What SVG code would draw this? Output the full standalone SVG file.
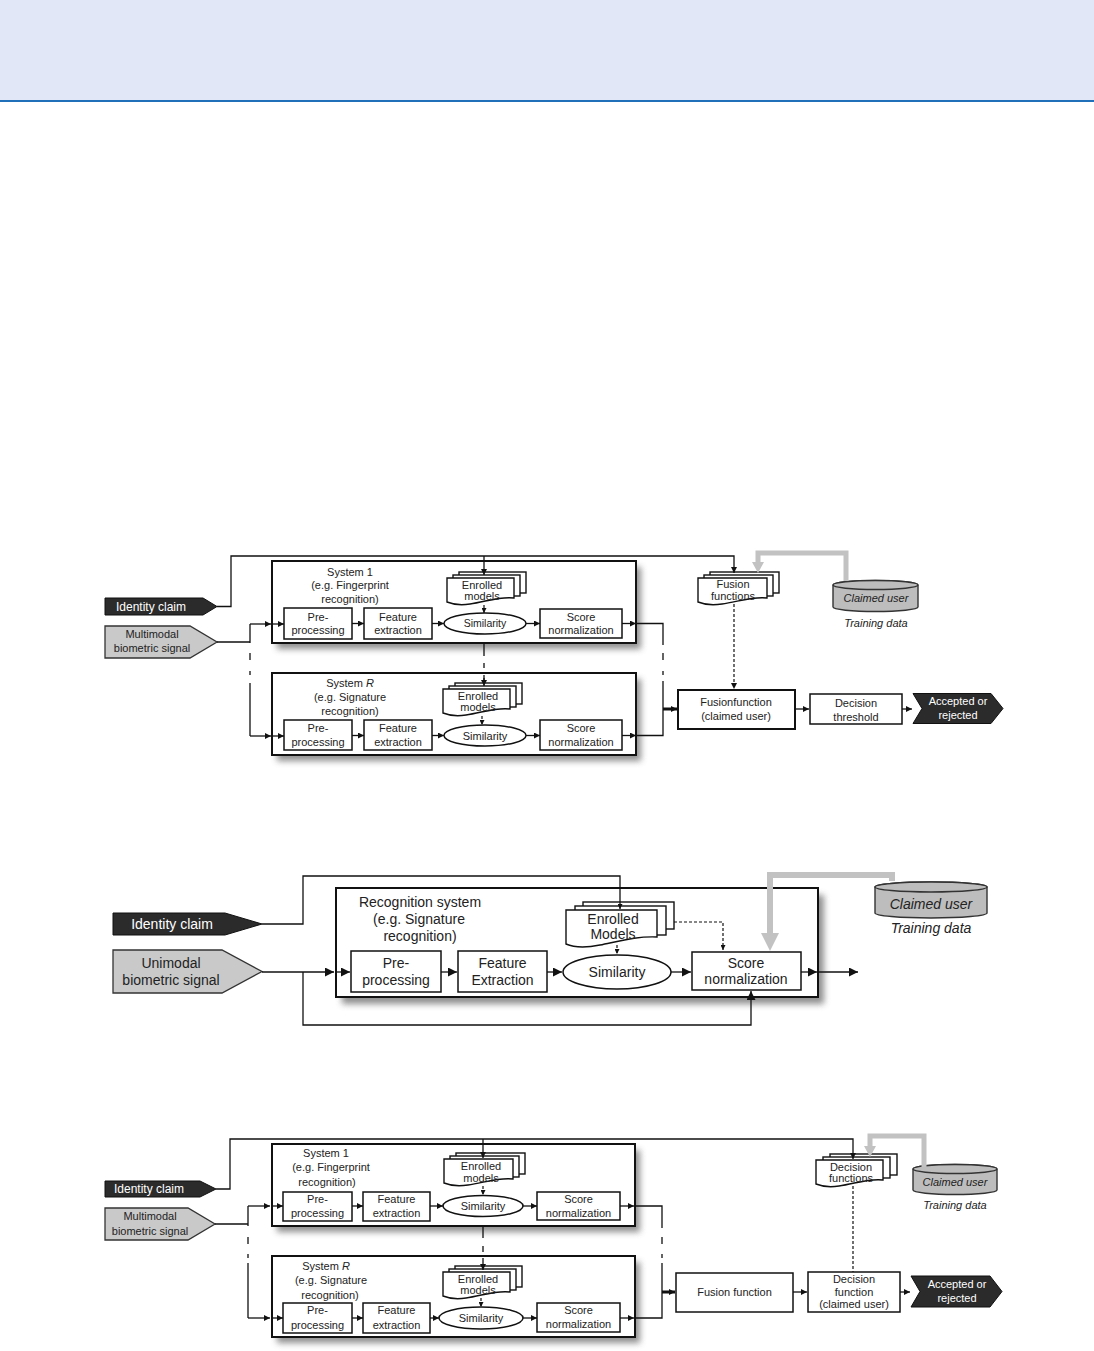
<svg xmlns="http://www.w3.org/2000/svg" width="1094" height="1351" viewBox="0 0 1094 1351">
<style>
.bg{fill:#fff}
.box{fill:#fff;stroke:#111;stroke-width:1.5}
.sys{fill:#fff;stroke:#111;stroke-width:2}
.shd{fill:#6a6a6a;opacity:.75}
.doc{fill:#fff;stroke:#111;stroke-width:1.4}
.cyl{fill:#bdbdbd;stroke:#333;stroke-width:1.4}
.dark{fill:#2b2b2b;stroke:#111;stroke-width:1}
.lite{fill:#c9c9c9;stroke:#333;stroke-width:1.3}
.t{font-family:"Liberation Sans",Arial,Helvetica,sans-serif;fill:#222;text-anchor:middle}
.w{fill:#fff}
.i{font-style:italic}
.s1{font-size:11px}
.s2{font-size:14px}
.ln{fill:none;stroke:#111;stroke-width:1.3}
.ds{fill:none;stroke:#111;stroke-width:1.2;stroke-dasharray:3 2}
.th{fill:none;stroke:#111;stroke-width:3}
.gr{fill:none;stroke:#c2c2c2;stroke-width:5}
.gr2{fill:none;stroke:#c2c2c2;stroke-width:6}
.ga{fill:#c2c2c2}
</style>
<defs>
<marker id="a" viewBox="0 0 10 10" refX="10" refY="5" markerWidth="8" markerHeight="6" markerUnits="userSpaceOnUse" orient="auto"><path d="M0,0 L10,5 L0,10 z" fill="#111"/></marker>
<marker id="as" viewBox="0 0 10 10" refX="10" refY="5" markerWidth="5" markerHeight="5" markerUnits="userSpaceOnUse" orient="auto"><path d="M0,0 L10,5 L0,10 z" fill="#111"/></marker>
<marker id="b" viewBox="0 0 10 10" refX="10" refY="5" markerWidth="12" markerHeight="9" markerUnits="userSpaceOnUse" orient="auto"><path d="M0,0 L10,5 L0,10 z" fill="#111"/></marker>
<filter id="blur" x="-10%" y="-20%" width="130%" height="150%"><feGaussianBlur stdDeviation="3"/></filter>
</defs>
<rect class="bg" x="0" y="0" width="1094" height="1351"/>
<rect x="0" y="0" width="1094" height="100" fill="#E1E7F7"/>
<line x1="0" y1="101" x2="1094" y2="101" stroke="#1F70B8" stroke-width="2"/>

<!-- ================= DIAGRAM 1 ================= -->
<g id="d1-identity">
<polygon class="dark" points="105,598 203,598 217,606.5 203,615 105,615"/>
<text class="t w" x="151" y="610.5" font-size="12">Identity claim</text>
</g>
<g id="d1-signal">
<polygon class="lite" points="105,626 190,626 217,642 190,658 105,658"/>
<text class="t s1" x="152" y="638">Multimodal</text>
<text class="t s1" x="152" y="652">biometric signal</text>
</g>
<g id="d1-sys1">
<rect class="shd" x="277" y="567" width="364" height="82" filter="url(#blur)"/>
<rect class="sys" x="272" y="561" width="364" height="82"/>
<text class="t s1" x="350" y="576">System 1</text>
<text class="t s1" x="350" y="589">(e.g. Fingerprint</text>
<text class="t s1" x="350" y="603">recognition)</text>
</g>
<g id="d1-pre1"><rect class="box" x="284" y="608" width="68" height="31"/><text class="t s1" x="318" y="621">Pre-</text><text class="t s1" x="318" y="634">processing</text></g>
<g id="d1-feat1"><rect class="box" x="364" y="608" width="68" height="31"/><text class="t s1" x="398" y="621">Feature</text><text class="t s1" x="398" y="634">extraction</text></g>
<g id="d1-enr1">
<rect class="doc" x="459" y="572" width="67" height="21"/>
<rect class="doc" x="453" y="575" width="67" height="21"/>
<path class="doc" d="M447,578 H514 V598 C500,596 485,602 470,604 C458,606 452,604 447,602 Z"/>
<text class="t s1" x="482" y="589">Enrolled</text><text class="t s1" x="482" y="600">models</text>
</g>
<g id="d1-sim1"><ellipse class="box" cx="485" cy="623.5" rx="41" ry="10.5"/><text class="t" x="485" y="627" font-size="10.5">Similarity</text></g>
<g id="d1-sn1"><rect class="box" x="540" y="609" width="82" height="29"/><text class="t s1" x="581" y="621">Score</text><text class="t s1" x="581" y="634">normalization</text></g>

<g id="d1-sysR">
<rect class="shd" x="277" y="679" width="364" height="82" filter="url(#blur)"/>
<rect class="sys" x="272" y="673" width="364" height="82"/>
<text class="t s1" x="350" y="687">System <tspan class="i">R</tspan></text>
<text class="t s1" x="350" y="701">(e.g. Signature</text>
<text class="t s1" x="350" y="715">recognition)</text>
</g>
<g id="d1-preR"><rect class="box" x="284" y="720" width="68" height="30"/><text class="t s1" x="318" y="732">Pre-</text><text class="t s1" x="318" y="746">processing</text></g>
<g id="d1-featR"><rect class="box" x="364" y="720" width="68" height="30"/><text class="t s1" x="398" y="732">Feature</text><text class="t s1" x="398" y="746">extraction</text></g>
<g id="d1-enrR">
<rect class="doc" x="455" y="683" width="67" height="21"/>
<rect class="doc" x="449" y="686" width="67" height="21"/>
<path class="doc" d="M443,689 H510 V709 C496,707 481,713 466,715 C454,717 448,715 443,713 Z"/>
<text class="t s1" x="478" y="700">Enrolled</text><text class="t s1" x="478" y="711">models</text>
</g>
<g id="d1-simR"><ellipse class="box" cx="485" cy="735.5" rx="41" ry="10.5"/><text class="t" x="485" y="740" font-size="11">Similarity</text></g>
<g id="d1-snR"><rect class="box" x="540" y="720" width="82" height="30"/><text class="t s1" x="581" y="732">Score</text><text class="t s1" x="581" y="746">normalization</text></g>

<g id="d1-fusfn">
<rect class="doc" x="710" y="572" width="69" height="21"/>
<rect class="doc" x="704" y="575" width="69" height="21"/>
<path class="doc" d="M698,578 H767 V598 C753,596 737,602 722,604 C710,606 703,604 698,602 Z"/>
<text class="t s1" x="733" y="588">Fusion</text><text class="t s1" x="733" y="600">functions</text>
</g>
<g id="d1-claimed">
<path class="cyl" d="M833,585 A42.5,4.5 0 0 1 918,585 V607 A42.5,4.5 0 0 1 833,607 Z"/>
<ellipse class="cyl" cx="875.5" cy="585" rx="42.5" ry="4.5"/>
<text class="t s1 i" x="876" y="602">Claimed user</text>
<text class="t s1 i" x="876" y="627">Training data</text>
</g>
<g id="d1-fusion"><rect class="sys" x="678" y="690" width="117" height="39"/><text class="t s1" x="736" y="706">Fusionfunction</text><text class="t s1" x="736" y="720">(claimed user)</text></g>
<g id="d1-thresh"><rect class="box" x="810" y="694" width="92" height="30"/><text class="t s1" x="856" y="707">Decision</text><text class="t s1" x="856" y="721">threshold</text></g>
<g id="d1-accept"><polygon class="dark" points="913,693.5 991,693.5 1003,708.5 991,723.5 913,723.5 922,708.5"/><text class="t s1 w" x="958" y="705">Accepted or</text><text class="t s1 w" x="958" y="719">rejected</text></g>

<g id="d1-connectors">
<path class="ln" d="M217,606.5 H231 V556 H734 V573" marker-end="url(#a)"/>
<path class="ln" d="M484,556 V575" marker-end="url(#a)"/>
<path class="ln" d="M484,643 V656 M484,663 V668 M484,675 V680"/>
<path class="ln" d="M484,678 V686" marker-end="url(#a)"/>
<path class="ln" d="M217,642 H250 M250,624 V643 M250,653 V660 M250,671 V675 M250,683 V736"/>
<path class="ln" d="M250,624 H271" marker-end="url(#a)"/>
<path class="ln" d="M273,624 H284" marker-end="url(#a)"/>
<path class="ln" d="M250,736 H271" marker-end="url(#a)"/>
<path class="ln" d="M273,736 H284" marker-end="url(#a)"/>
<path class="ln" d="M352,623.5 H364" marker-end="url(#a)"/>
<path class="ln" d="M432,623.5 H444" marker-end="url(#a)"/>
<path class="ln" d="M526,623.5 H540" marker-end="url(#a)"/>
<path class="ln" d="M622,623.5 H636" marker-end="url(#a)"/>
<path class="ln" d="M352,735.5 H364" marker-end="url(#a)"/>
<path class="ln" d="M432,735.5 H444" marker-end="url(#a)"/>
<path class="ln" d="M526,735.5 H540" marker-end="url(#a)"/>
<path class="ln" d="M622,735.5 H636" marker-end="url(#a)"/>
<path class="ln" d="M636,623.5 H663 V645 M663,653 V660 M663,671 V675 M663,681 V735.5 H636"/>
<path class="ds" d="M484,605 V613" marker-end="url(#as)"/>
<path class="ds" d="M482,716 V725" marker-end="url(#as)"/>
<path class="th" d="M663,709 H677" marker-end="url(#a)"/>
<path class="ds" d="M734,604 V689" marker-end="url(#a)"/>
<path class="ln" d="M795,709 H809" marker-end="url(#a)"/>
<path class="ln" d="M902,709 H912" marker-end="url(#a)"/>
<path class="gr" d="M846,581 V553 H758 V563"/>
<polygon class="ga" points="752,562 764,562 758,573"/>
</g>

<!-- ================= DIAGRAM 2 ================= -->
<g id="d2-identity">
<polygon class="dark" points="113,913 225,913 262,924 225,935 113,935"/>
<text class="t s2 w" x="172" y="929">Identity claim</text>
</g>
<g id="d2-signal">
<polygon class="lite" points="113,950 222,950 262,971.5 222,993 113,993"/>
<text class="t s2" x="171" y="968">Unimodal</text>
<text class="t s2" x="171" y="985">biometric signal</text>
</g>
<g id="d2-system">
<rect class="shd" x="342" y="895" width="482" height="109" filter="url(#blur)"/>
<rect class="sys" x="336" y="888" width="482" height="109"/>
<text class="t s2" x="420" y="907">Recognition system</text>
<text class="t s2" x="419" y="924">(e.g. Signature</text>
<text class="t s2" x="420" y="941">recognition)</text>
</g>
<g id="d2-pre"><rect class="box" x="351" y="951" width="90" height="41"/><text class="t s2" x="396" y="968">Pre-</text><text class="t s2" x="396" y="985">processing</text></g>
<g id="d2-feat"><rect class="box" x="458" y="951" width="89" height="41"/><text class="t s2" x="502.5" y="968">Feature</text><text class="t s2" x="502.5" y="985">Extraction</text></g>
<g id="d2-enr">
<rect class="doc" x="583" y="902" width="91" height="27"/>
<rect class="doc" x="575" y="906" width="91" height="29"/>
<path class="doc" d="M566,910 H657 V937 C638,936 620,941 600,945 C585,948 573,947 566,944 Z"/>
<text class="t s2" x="613" y="924">Enrolled</text><text class="t s2" x="613" y="939">Models</text>
</g>
<g id="d2-sim"><ellipse class="box" cx="617" cy="972" rx="54" ry="17"/><text class="t s2" x="617" y="977">Similarity</text></g>
<g id="d2-sn"><rect class="box" x="692" y="952" width="109" height="38"/><text class="t s2" x="746" y="968">Score</text><text class="t s2" x="746" y="984">normalization</text></g>
<g id="d2-claimed">
<path class="cyl" d="M875,887 A56,5 0 0 1 987,887 V913 A56,5 0 0 1 875,913 Z"/>
<ellipse class="cyl" cx="931" cy="887" rx="56" ry="5"/>
<text class="t s2 i" x="931" y="909">Claimed user</text>
<text class="t s2 i" x="931" y="933">Training data</text>
</g>
<g id="d2-connectors">
<path class="ln" d="M262,924 H303 V876 H620 V909" marker-end="url(#as)"/>
<path class="ln" d="M262,972 H334" marker-end="url(#b)"/>
<path class="ln" d="M336,972 H350" marker-end="url(#b)"/>
<path class="ln" d="M303,972 V1025 H751 V991" marker-end="url(#b)"/>
<path class="ln" d="M441,972 H457" marker-end="url(#b)"/>
<path class="ln" d="M547,972 H562" marker-end="url(#b)"/>
<path class="ln" d="M671,972 H691" marker-end="url(#b)"/>
<path class="ln" d="M801,972 H817" marker-end="url(#b)"/>
<path class="ln" d="M818,972 H858" marker-end="url(#b)"/>
<path class="ds" d="M617,945 V954" marker-end="url(#as)"/>
<path class="ds" d="M674,922 H723 V950" marker-end="url(#as)"/>
<path class="gr2" d="M892,881 V875 H770 V935"/>
<polygon class="ga" points="761,933 779,933 770,951"/>
</g>

<!-- ================= DIAGRAM 3 ================= -->
<g id="d3-identity">
<polygon class="dark" points="105,1181 200,1181 216,1189 200,1197 105,1197"/>
<text class="t w" x="149" y="1193" font-size="12">Identity claim</text>
</g>
<g id="d3-signal">
<polygon class="lite" points="105,1208 188,1208 215,1224 188,1240 105,1240"/>
<text class="t s1" x="150" y="1220">Multimodal</text>
<text class="t s1" x="150" y="1235">biometric signal</text>
</g>
<g id="d3-sys1">
<rect class="shd" x="277" y="1150" width="363" height="82" filter="url(#blur)"/>
<rect class="sys" x="272" y="1144" width="363" height="82"/>
<text class="t s1" x="326" y="1157">System 1</text>
<text class="t s1" x="331" y="1171">(e.g. Fingerprint</text>
<text class="t s1" x="327" y="1186">recognition)</text>
</g>
<g id="d3-pre1"><rect class="box" x="283" y="1192" width="69" height="29"/><text class="t s1" x="317.5" y="1203">Pre-</text><text class="t s1" x="317.5" y="1217">processing</text></g>
<g id="d3-feat1"><rect class="box" x="363" y="1192" width="67" height="29"/><text class="t s1" x="396.5" y="1203">Feature</text><text class="t s1" x="396.5" y="1217">extraction</text></g>
<g id="d3-enr1">
<rect class="doc" x="456" y="1153" width="69" height="21"/>
<rect class="doc" x="450" y="1156" width="69" height="21"/>
<path class="doc" d="M444,1159 H513 V1179 C499,1177 483,1183 468,1185 C456,1187 449,1185 444,1183 Z"/>
<text class="t s1" x="481" y="1170">Enrolled</text><text class="t s1" x="481" y="1182">models</text>
</g>
<g id="d3-sim1"><ellipse class="box" cx="483" cy="1206" rx="40" ry="10.5"/><text class="t s1" x="483" y="1210">Similarity</text></g>
<g id="d3-sn1"><rect class="box" x="537" y="1192" width="83" height="28"/><text class="t s1" x="578.5" y="1203">Score</text><text class="t s1" x="578.5" y="1217">normalization</text></g>

<g id="d3-sysR">
<rect class="shd" x="277" y="1262" width="363" height="81" filter="url(#blur)"/>
<rect class="sys" x="272" y="1256" width="363" height="81"/>
<text class="t s1" x="326" y="1270">System <tspan class="i">R</tspan></text>
<text class="t s1" x="331" y="1284">(e.g. Signature</text>
<text class="t s1" x="330" y="1299">recognition)</text>
</g>
<g id="d3-preR"><rect class="box" x="283" y="1303" width="69" height="30"/><text class="t s1" x="317.5" y="1314">Pre-</text><text class="t s1" x="317.5" y="1329">processing</text></g>
<g id="d3-featR"><rect class="box" x="363" y="1303" width="67" height="30"/><text class="t s1" x="396.5" y="1314">Feature</text><text class="t s1" x="396.5" y="1329">extraction</text></g>
<g id="d3-enrR">
<rect class="doc" x="455" y="1266" width="67" height="21"/>
<rect class="doc" x="449" y="1269" width="67" height="21"/>
<path class="doc" d="M443,1272 H510 V1292 C496,1290 481,1296 466,1298 C454,1300 448,1298 443,1296 Z"/>
<text class="t s1" x="478" y="1283">Enrolled</text><text class="t s1" x="478" y="1294">models</text>
</g>
<g id="d3-simR"><ellipse class="box" cx="481" cy="1318" rx="42" ry="11"/><text class="t s1" x="481" y="1322">Similarity</text></g>
<g id="d3-snR"><rect class="box" x="537" y="1303" width="83" height="29"/><text class="t s1" x="578.5" y="1314">Score</text><text class="t s1" x="578.5" y="1328">normalization</text></g>

<g id="d3-decfns">
<rect class="doc" x="830" y="1154" width="67" height="21"/>
<rect class="doc" x="823" y="1157" width="67" height="21"/>
<path class="doc" d="M816,1160 H883 V1180 C869,1178 854,1184 839,1186 C827,1188 821,1186 816,1184 Z"/>
<text class="t s1" x="851" y="1171">Decision</text><text class="t s1" x="851" y="1182">functions</text>
</g>
<g id="d3-claimed">
<path class="cyl" d="M913,1169 A42,4.5 0 0 1 997,1169 V1190 A42,4.5 0 0 1 913,1190 Z"/>
<ellipse class="cyl" cx="955" cy="1169" rx="42" ry="4.5"/>
<text class="t s1 i" x="955" y="1186">Claimed user</text>
<text class="t s1 i" x="955" y="1209">Training data</text>
</g>
<g id="d3-fusion"><rect class="box" x="676" y="1273" width="117" height="39"/><text class="t s1" x="734.5" y="1296">Fusion function</text></g>
<g id="d3-decfn"><rect class="box" x="808" y="1272" width="92" height="40"/><text class="t s1" x="854" y="1283">Decision</text><text class="t s1" x="854" y="1296">function</text><text class="t s1" x="854" y="1308">(claimed user)</text></g>
<g id="d3-accept"><polygon class="dark" points="911,1276 990,1276 1002,1291.5 990,1307 911,1307 920,1291.5"/><text class="t s1 w" x="957" y="1288">Accepted or</text><text class="t s1 w" x="957" y="1302">rejected</text></g>

<g id="d3-connectors">
<path class="ln" d="M216,1189 H230 V1139 H853 V1159" marker-end="url(#a)"/>
<path class="ln" d="M483,1139 V1158" marker-end="url(#a)"/>
<path class="ln" d="M483,1226 V1238 M483,1246 V1252"/>
<path class="ln" d="M483,1258 V1270" marker-end="url(#a)"/>
<path class="ln" d="M215,1224 H248 M248,1206 V1226 M248,1237 V1244 M248,1254 V1258 M248,1263 V1318"/>
<path class="ln" d="M248,1206 H270" marker-end="url(#a)"/>
<path class="ln" d="M273,1206 H283" marker-end="url(#a)"/>
<path class="ln" d="M248,1318 H270" marker-end="url(#a)"/>
<path class="ln" d="M273,1318 H283" marker-end="url(#a)"/>
<path class="ln" d="M352,1206 H363" marker-end="url(#a)"/>
<path class="ln" d="M430,1206 H443" marker-end="url(#a)"/>
<path class="ln" d="M523,1206 H537" marker-end="url(#a)"/>
<path class="ln" d="M620,1206 H634" marker-end="url(#a)"/>
<path class="ln" d="M352,1318 H363" marker-end="url(#a)"/>
<path class="ln" d="M430,1318 H439" marker-end="url(#a)"/>
<path class="ln" d="M523,1318 H537" marker-end="url(#a)"/>
<path class="ln" d="M620,1318 H634" marker-end="url(#a)"/>
<path class="ln" d="M635,1206 H662 V1228 M662,1237 V1244 M662,1254 V1258 M662,1263 V1318 H635"/>
<path class="ds" d="M483,1186 V1195" marker-end="url(#as)"/>
<path class="ds" d="M481,1298 V1307" marker-end="url(#as)"/>
<path class="th" d="M662,1292 H675" marker-end="url(#a)"/>
<path class="ln" d="M793,1292 H807" marker-end="url(#a)"/>
<path class="ln" d="M900,1292 H910" marker-end="url(#a)"/>
<path class="ds" d="M853,1186 V1272"/>
<path class="gr" d="M924,1167 V1136 H870 V1147"/>
<polygon class="ga" points="864,1146 876,1146 870,1157"/>
</g>
</svg>
